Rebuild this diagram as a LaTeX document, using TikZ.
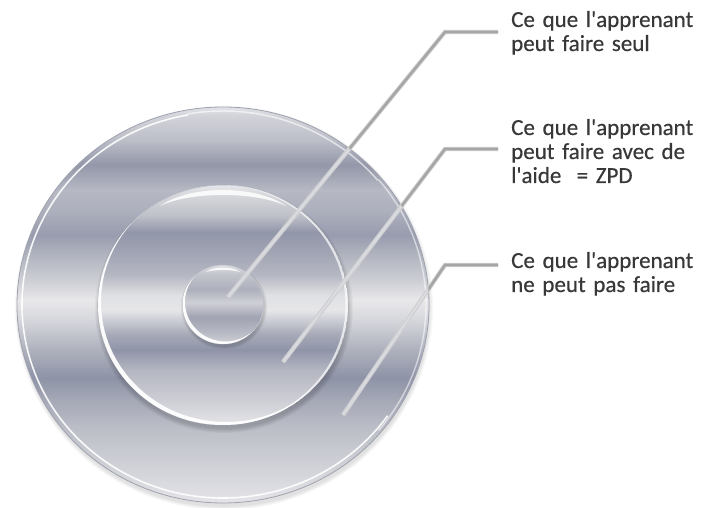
\documentclass[tikz,border=0pt]{standalone}
\usepackage{fontspec}
\setmainfont{Carlito}
\newfontfamily\lblfont{Carlito}[FakeBold=0.35]
\newcommand{\myq}{\textquotesingle}
% outer disc colours (bottom to top)
\definecolor{oA}{HTML}{E4E4E8}\definecolor{oB}{HTML}{D2D3D9}\definecolor{oC}{HTML}{BDBFC8}
\definecolor{oD}{HTML}{A5A8B6}\definecolor{oE}{HTML}{8E93A7}\definecolor{oF}{HTML}{AEB1BD}
\definecolor{oG}{HTML}{D8D9DE}\definecolor{oH}{HTML}{E8E8EA}\definecolor{oI}{HTML}{CDCED4}
\definecolor{oJ}{HTML}{B1B4BF}\definecolor{oK}{HTML}{989CAE}\definecolor{oL}{HTML}{ADB0BD}
\definecolor{oM}{HTML}{B6B9C3}\definecolor{oN}{HTML}{9397A9}\definecolor{oO}{HTML}{BCBEC8}
\definecolor{oP}{HTML}{D3D4DA}\definecolor{oQ}{HTML}{E2E3E7}
% middle disc colours
\definecolor{mA}{HTML}{E4E4E8}\definecolor{mB}{HTML}{CDCED5}\definecolor{mC}{HTML}{B4B6C1}
\definecolor{mD}{HTML}{9094A8}\definecolor{mE}{HTML}{A5A8B6}\definecolor{mF}{HTML}{E6E6E9}
\definecolor{mG}{HTML}{DFE0E3}\definecolor{mH}{HTML}{B5B7C2}\definecolor{mI}{HTML}{9FA2B2}
\definecolor{mJ}{HTML}{9296A9}\definecolor{mK}{HTML}{C0C2CA}\definecolor{mL}{HTML}{D6D7DC}
\definecolor{mM}{HTML}{E6E7EB}
% inner disc colours
\definecolor{iA}{HTML}{D0D1D6}\definecolor{iB}{HTML}{B6B8C3}\definecolor{iC}{HTML}{A0A3B2}
\definecolor{iD}{HTML}{CFD0D6}\definecolor{iE}{HTML}{ADB0BC}\definecolor{iF}{HTML}{C2C4CC}
\definecolor{iG}{HTML}{DCDDE2}
\definecolor{rimgray}{HTML}{9FA2AE}
\definecolor{conngray}{HTML}{A6A6A6}
\definecolor{connhalo}{HTML}{D4D4D4}
\definecolor{conninside}{HTML}{DADBE0}
\definecolor{txt}{HTML}{383838}
\pgfdeclareverticalshading{outershade}{100bp}{color(0bp)=(oA); color(25bp)=(oA);
 color(29.17bp)=(oB); color(34.22bp)=(oC); color(38bp)=(oD); color(40.78bp)=(oE);
 color(44.32bp)=(oF); color(48.36bp)=(oG); color(50.63bp)=(oH); color(53.16bp)=(oI);
 color(56.31bp)=(oJ); color(58.84bp)=(oK); color(61.99bp)=(oL); color(64.52bp)=(oM);
 color(67.68bp)=(oN); color(70.83bp)=(oO); color(73.99bp)=(oP); color(75bp)=(oQ); color(100bp)=(oQ)}
\pgfdeclareverticalshading{middleshade}{100bp}{color(0bp)=(mA); color(25bp)=(mA);
 color(30.21bp)=(mB); color(36.46bp)=(mC); color(40.63bp)=(mD); color(43.75bp)=(mE);
 color(48.96bp)=(mF); color(52.08bp)=(mG); color(56.25bp)=(mH); color(61.46bp)=(mI);
 color(65.21bp)=(mJ); color(68.75bp)=(mK); color(72.92bp)=(mL); color(75bp)=(mM); color(100bp)=(mM)}
\pgfdeclareverticalshading{innershade}{100bp}{color(0bp)=(iA); color(25bp)=(iA);
 color(32.9bp)=(iB); color(41.8bp)=(iC); color(51.3bp)=(iD); color(59.5bp)=(iE);
 color(69bp)=(iF); color(75bp)=(iG); color(100bp)=(iG)}
\begin{document}
\begin{tikzpicture}[x=1pt,y=1pt,
  lbl/.style={font=\lblfont\fontsize{23}{24}\selectfont, text=txt, inner sep=0pt,
              text width=190pt, align=left, anchor=base west},
  conn/.style={draw=conngray, line width=2.6pt, line join=miter},
  connglow/.style={draw=connhalo, line width=4.4pt, line join=miter},
  conninner/.style={draw=conninside, line width=2.6pt},
  rimline/.style={draw=white, line width=1.6pt, opacity=0.9},
  gloss/.style={fill=white, opacity=0.85}]
\useasboundingbox (0,0) rectangle (701,508);
\fill[white] (0,0) rectangle (701,508);
% ---------- outer disc ----------
\foreach \i in {1,...,5}{
  \fill[black, opacity=0.025] (224,200) ellipse [x radius=205+\i*0.8, y radius=198+\i*0.8];}
\path[shading=outershade, draw=rimgray, line width=0.8pt]
  (223,203) ellipse [x radius=206, y radius=198];
\draw[rimline] (223,203) ++(100:201 and 193) arc [start angle=100, end angle=325, x radius=201, y radius=193];
\draw[white, line width=1.5pt, opacity=0.6] (223,203) ++(40:202 and 194) arc [start angle=40, end angle=100, x radius=202, y radius=194];
\draw[white, line width=1.4pt, opacity=0.55] (223,203) ++(-40:203 and 195) arc [start angle=-40, end angle=40, x radius=203, y radius=195];
% ---------- middle disc ----------
\foreach \i in {1,...,5}{
  \fill[black, opacity=0.035] (224,199) ellipse [x radius=124+\i, y radius=119+\i];}
\path[shading=middleshade, draw=rimgray, line width=0.6pt]
  (223,203) ellipse [x radius=125, y radius=120];
\begin{scope}
  \clip (223,203) ellipse [x radius=125, y radius=120];
  \fill[white, opacity=0.95, even odd rule]
    (223,203) ellipse [x radius=125, y radius=120]
    (226,206) ellipse [x radius=125, y radius=120];
  \fill[white, opacity=0.7, even odd rule]
    (223,203) ellipse [x radius=125, y radius=120]
    (220.5,203) ellipse [x radius=125, y radius=120];
\end{scope}
\fill[gloss] (160,302) .. controls (190,323.3) and (256,323.3) .. (286,302)
             .. controls (256,316.7) and (190,316.7) .. (160,302) -- cycle;
% ---------- inner disc ----------
\foreach \i in {1,...,4}{
  \fill[black, opacity=0.04] (224,201) ellipse [x radius=40+\i*0.8, y radius=39+\i*0.8];}
\path[shading=innershade, draw=rimgray!80, line width=0.6pt]
  (223,203.5) ellipse [x radius=40.5, y radius=39.5];
\begin{scope}
  \clip (223,203.5) ellipse [x radius=40.5, y radius=39.5];
  \fill[white, opacity=0.95, even odd rule]
    (223,203.5) ellipse [x radius=40.5, y radius=39.5]
    (225.5,206) ellipse [x radius=40.5, y radius=39.5];
\end{scope}
\fill[gloss] (206,236) .. controls (213,242) and (233,242) .. (240,236)
             .. controls (233,238.7) and (213,238.7) .. (206,236) -- cycle;
% ---------- connectors ----------
\coordinate (e1) at (228,211); \coordinate (k1) at (445,476); \coordinate (h1) at (498,476);
\coordinate (e2) at (283,146); \coordinate (k2) at (445,359); \coordinate (h2) at (498,359);
\coordinate (e3) at (343,93);  \coordinate (k3) at (445,243); \coordinate (h3) at (498,243);
\foreach \n in {1,2,3}{
  \draw[connglow] (e\n) -- (k\n) -- (h\n);
  \draw[conn] (e\n) -- (k\n) -- (h\n);}
\begin{scope}
  \clip (223,203) ellipse [x radius=206, y radius=198];
  \foreach \n in {1,2,3}{\draw[conninner] (e\n) -- (k\n);}
\end{scope}
% ---------- labels ----------
\node[lbl] (t1) at (511,481) {Ce que l\myq apprenant\\peut faire seul};
\node[lbl] (t2) at (511,373) {Ce que l\myq apprenant\\peut faire avec de\\l\myq aide\ \ = ZPD};
\node[lbl] (t3) at (511,240) {Ce que l\myq apprenant\\ne peut pas faire};
\end{tikzpicture}
\end{document}
